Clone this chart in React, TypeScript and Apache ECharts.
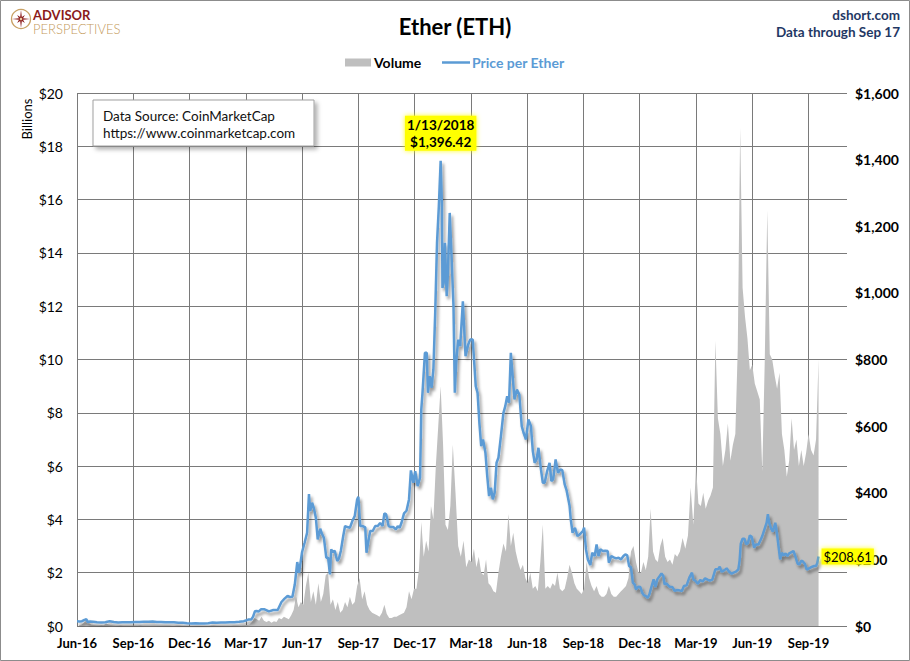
import React, { useEffect, useRef } from "react";
import * as echarts from "echarts";

// ---------- DATA ----------
const xTickLabels = [
  "Jun-16", "Sep-16", "Dec-16", "Mar-17", "Jun-17", "Sep-17", "Dec-17",
  "Mar-18", "Jun-18", "Sep-18", "Dec-18", "Mar-19", "Jun-19", "Sep-19",
];

// Price per Ether (USD), [date, close]
const price2016: [string, number][] = [
  ["2016-06-01", 14.0], ["2016-06-05", 13.8], ["2016-06-09", 14.6], ["2016-06-13", 18.6], ["2016-06-16", 20.6],
  ["2016-06-18", 12.0], ["2016-06-22", 13.2], ["2016-06-27", 13.0], ["2016-07-03", 11.5], ["2016-07-10", 10.6],
  ["2016-07-17", 11.2], ["2016-07-20", 12.6], ["2016-07-24", 14.0], ["2016-07-31", 12.0], ["2016-08-07", 10.6],
  ["2016-08-14", 11.0], ["2016-08-21", 11.3], ["2016-08-28", 11.1], ["2016-09-04", 11.8], ["2016-09-11", 11.8],
  ["2016-09-18", 12.7], ["2016-09-25", 13.0], ["2016-10-02", 13.2], ["2016-10-09", 11.9], ["2016-10-16", 12.0],
  ["2016-10-23", 11.3], ["2016-10-30", 10.9], ["2016-11-06", 11.0], ["2016-11-13", 10.1], ["2016-11-20", 9.8],
  ["2016-11-27", 8.5], ["2016-12-04", 7.8], ["2016-12-11", 8.2], ["2016-12-18", 7.8], ["2016-12-25", 7.3],
];
const price2017: [string, number][] = [
  ["2017-01-01", 8.2], ["2017-01-08", 10.3], ["2017-01-15", 9.8], ["2017-01-22", 10.7], ["2017-01-29", 10.5],
  ["2017-02-05", 11.3], ["2017-02-12", 11.4], ["2017-02-19", 12.8], ["2017-02-26", 14.5], ["2017-03-01", 16.5],
  ["2017-03-05", 19.3], ["2017-03-10", 19.5], ["2017-03-13", 28], ["2017-03-16", 44], ["2017-03-19", 45],
  ["2017-03-22", 43], ["2017-03-26", 50], ["2017-04-01", 50], ["2017-04-08", 44], ["2017-04-15", 48],
  ["2017-04-22", 48], ["2017-04-28", 72], ["2017-05-03", 82], ["2017-05-08", 90], ["2017-05-12", 87],
  ["2017-05-16", 88], ["2017-05-20", 125], ["2017-05-24", 192], ["2017-05-27", 160], ["2017-06-01", 222],
  ["2017-06-05", 250], ["2017-06-09", 280], ["2017-06-12", 396], ["2017-06-14", 345], ["2017-06-17", 370],
  ["2017-06-20", 352], ["2017-06-23", 325], ["2017-06-26", 260], ["2017-06-30", 292], ["2017-07-03", 276],
  ["2017-07-06", 265], ["2017-07-10", 205], ["2017-07-13", 205], ["2017-07-16", 155], ["2017-07-18", 230],
  ["2017-07-21", 222], ["2017-07-24", 226], ["2017-07-28", 195], ["2017-07-31", 203], ["2017-08-03", 225],
  ["2017-08-07", 270], ["2017-08-10", 300], ["2017-08-14", 297], ["2017-08-18", 295], ["2017-08-22", 315],
  ["2017-08-26", 330], ["2017-08-30", 380], ["2017-09-01", 388], ["2017-09-04", 300], ["2017-09-08", 300],
  ["2017-09-12", 296], ["2017-09-14", 220], ["2017-09-17", 255], ["2017-09-20", 285], ["2017-09-24", 285],
  ["2017-09-28", 300], ["2017-10-02", 300], ["2017-10-06", 309], ["2017-10-10", 300], ["2017-10-13", 338],
  ["2017-10-16", 335], ["2017-10-20", 300], ["2017-10-24", 297], ["2017-10-28", 297], ["2017-11-01", 290],
  ["2017-11-04", 300], ["2017-11-07", 295], ["2017-11-10", 310], ["2017-11-14", 338], ["2017-11-18", 346],
  ["2017-11-22", 380], ["2017-11-25", 467], ["2017-11-29", 430], ["2017-12-02", 465], ["2017-12-06", 420],
  ["2017-12-10", 445], ["2017-12-12", 650], ["2017-12-14", 700], ["2017-12-18", 820], ["2017-12-21", 820],
  ["2017-12-23", 700], ["2017-12-26", 750], ["2017-12-29", 715],
];
const price2018: [string, number][] = [
  ["2018-01-01", 770], ["2018-01-04", 940], ["2018-01-07", 1150], ["2018-01-10", 1260], ["2018-01-13", 1396.42],
  ["2018-01-15", 1270], ["2018-01-16", 1015], ["2018-01-18", 1030], ["2018-01-20", 1150], ["2018-01-23", 990],
  ["2018-01-25", 1060], ["2018-01-28", 1240], ["2018-01-31", 1110], ["2018-02-03", 960], ["2018-02-05", 700],
  ["2018-02-07", 790], ["2018-02-10", 860], ["2018-02-13", 840], ["2018-02-17", 975], ["2018-02-21", 810],
  ["2018-02-25", 845], ["2018-02-28", 860], ["2018-03-04", 860], ["2018-03-09", 720], ["2018-03-12", 700],
  ["2018-03-15", 610], ["2018-03-18", 540], ["2018-03-21", 560], ["2018-03-25", 520], ["2018-03-28", 450],
  ["2018-03-31", 390], ["2018-04-03", 415], ["2018-04-06", 380], ["2018-04-09", 400], ["2018-04-12", 490],
  ["2018-04-15", 505], ["2018-04-19", 570], ["2018-04-23", 640], ["2018-04-26", 660], ["2018-04-29", 690],
  ["2018-05-02", 670], ["2018-05-05", 820], ["2018-05-08", 750], ["2018-05-11", 680], ["2018-05-15", 710],
  ["2018-05-19", 695], ["2018-05-23", 600], ["2018-05-26", 580], ["2018-05-30", 560], ["2018-06-03", 620],
  ["2018-06-07", 600], ["2018-06-10", 525], ["2018-06-13", 490], ["2018-06-16", 500], ["2018-06-19", 535],
  ["2018-06-23", 470], ["2018-06-26", 430], ["2018-06-29", 430], ["2018-07-03", 465], ["2018-07-07", 490],
  ["2018-07-10", 435], ["2018-07-13", 440], ["2018-07-17", 500], ["2018-07-21", 460], ["2018-07-25", 470],
  ["2018-07-28", 468], ["2018-08-01", 425], ["2018-08-04", 408], ["2018-08-09", 362], ["2018-08-11", 320],
  ["2018-08-14", 280], ["2018-08-18", 295], ["2018-08-22", 270], ["2018-08-26", 275], ["2018-08-31", 285],
  ["2018-09-02", 295], ["2018-09-05", 230], ["2018-09-08", 200], ["2018-09-12", 183], ["2018-09-15", 220],
  ["2018-09-19", 210], ["2018-09-22", 245], ["2018-09-25", 210], ["2018-09-28", 230], ["2018-10-02", 225],
  ["2018-10-06", 226], ["2018-10-10", 225], ["2018-10-12", 190], ["2018-10-16", 210], ["2018-10-20", 206],
  ["2018-10-24", 203], ["2018-10-28", 205], ["2018-11-01", 200], ["2018-11-05", 210], ["2018-11-08", 215],
  ["2018-11-11", 212], ["2018-11-14", 180], ["2018-11-17", 176], ["2018-11-20", 130], ["2018-11-23", 124],
  ["2018-11-25", 110], ["2018-11-29", 118], ["2018-12-02", 117], ["2018-12-05", 100], ["2018-12-08", 92],
  ["2018-12-11", 90], ["2018-12-14", 84], ["2018-12-17", 95], ["2018-12-20", 115], ["2018-12-24", 140],
  ["2018-12-27", 117], ["2018-12-30", 140],
];
const price2019: [string, number][] = [
  ["2019-01-03", 150], ["2019-01-06", 158], ["2019-01-09", 150], ["2019-01-11", 125], ["2019-01-14", 128],
  ["2019-01-17", 122], ["2019-01-20", 117], ["2019-01-24", 117], ["2019-01-28", 105], ["2019-01-31", 108],
  ["2019-02-04", 107], ["2019-02-08", 105], ["2019-02-11", 120], ["2019-02-15", 122], ["2019-02-19", 145],
  ["2019-02-23", 160], ["2019-02-25", 140], ["2019-02-28", 136], ["2019-03-04", 127], ["2019-03-08", 138],
  ["2019-03-12", 134], ["2019-03-16", 143], ["2019-03-20", 139], ["2019-03-24", 136], ["2019-03-28", 139],
  ["2019-04-02", 170], ["2019-04-06", 170], ["2019-04-09", 178], ["2019-04-12", 163], ["2019-04-16", 167],
  ["2019-04-20", 173], ["2019-04-24", 163], ["2019-04-28", 157], ["2019-05-01", 160], ["2019-05-05", 163],
  ["2019-05-09", 170], ["2019-05-11", 195], ["2019-05-13", 247], ["2019-05-16", 262], ["2019-05-19", 262],
  ["2019-05-22", 245], ["2019-05-25", 250], ["2019-05-28", 272], ["2019-05-31", 268], ["2019-06-04", 235],
  ["2019-06-07", 245], ["2019-06-11", 245], ["2019-06-14", 257], ["2019-06-17", 270], ["2019-06-21", 293],
  ["2019-06-24", 310], ["2019-06-26", 336], ["2019-06-28", 310], ["2019-07-01", 293], ["2019-07-04", 283],
  ["2019-07-08", 310], ["2019-07-11", 275], ["2019-07-14", 230], ["2019-07-16", 200], ["2019-07-19", 220],
  ["2019-07-22", 212], ["2019-07-25", 218], ["2019-07-28", 210], ["2019-07-31", 218], ["2019-08-04", 222],
  ["2019-08-07", 225], ["2019-08-10", 210], ["2019-08-14", 187], ["2019-08-17", 185], ["2019-08-20", 196],
  ["2019-08-23", 193], ["2019-08-26", 186], ["2019-08-29", 169], ["2019-09-01", 172], ["2019-09-04", 175],
  ["2019-09-07", 178], ["2019-09-10", 180], ["2019-09-13", 180], ["2019-09-15", 189], ["2019-09-17", 208.61],
];

// Volume (billions USD), one value every 4 days starting 2016-06-04
const volumeStart = "2016-06-04";
const volumeStepDays = 4;
const vol2016 = [
  0.03, 0.05, 0.12, 0.28, 0.1, 0.05, 0.04, // Jun
  0.03, 0.03, 0.04, 0.03, 0.09, 0.06, 0.04, 0.03, // Jul
  0.02, 0.02, 0.03, 0.02, 0.02, 0.02, 0.02, 0.02, // Aug
  0.02, 0.02, 0.03, 0.02, 0.02, 0.02, 0.02, // Sep
  0.02, 0.02, 0.02, 0.02, 0.02, 0.02, 0.02, 0.02, // Oct
  0.01, 0.01, 0.02, 0.02, 0.01, 0.01, 0.01, // Nov
  0.01, 0.01, 0.01, 0.01, 0.01, 0.01, 0.01, 0.01, // Dec
];
const vol2017 = [
  0.01, 0.02, 0.02, 0.01, 0.01, 0.01, 0.01, 0.01, // Jan
  0.01, 0.01, 0.02, 0.02, 0.02, 0.02, 0.03, // Feb
  0.04, 0.06, 0.15, 0.3, 0.25, 0.2, 0.35, 0.2, // Mar
  0.15, 0.2, 0.12, 0.18, 0.15, 0.3, 0.25, // Apr
  0.35, 0.3, 0.25, 0.4, 0.6, 1.1, 0.7, 0.9, // May
  0.8, 1.5, 2.0, 0.9, 1.3, 0.8, 1.6, // Jun
  0.9, 1.2, 1.9, 2.0, 0.8, 1.0, 0.6, 0.9, // Jul
  0.5, 0.6, 0.9, 0.7, 1.1, 0.8, 0.9, 1.5, // Aug
  1.8, 1.0, 1.3, 0.8, 0.6, 0.5, 0.45, // Sep
  0.4, 0.35, 0.5, 0.8, 0.45, 0.3, 0.3, 0.35, // Oct
  0.35, 0.4, 0.45, 0.5, 0.7, 1.3, 1.0, 1.4, // Nov
  1.4, 2.1, 3.9, 2.6, 3.2, 2.8, 4.5, // Dec
];
const vol2018 = [
  4.0, 6.0, 7.5, 9.0, 6.8, 3.8, 3.6, 4.5, // Jan
  6.8, 5.0, 3.0, 2.6, 3.2, 2.2, 2.5, // Feb
  2.4, 2.9, 2.2, 2.6, 2.0, 1.9, 2.5, 1.6, // Mar
  1.5, 1.3, 1.25, 2.0, 2.6, 3.1, 2.8, // Apr
  4.2, 3.0, 3.5, 2.8, 2.4, 2.1, 2.3, 1.8, // May
  1.6, 2.0, 1.4, 1.5, 1.3, 2.4, 3.8, 1.4, // Jun
  1.5, 1.4, 1.6, 1.5, 2.0, 1.4, 1.3, // Jul
  1.4, 1.8, 2.3, 2.0, 1.6, 1.4, 1.3, 1.2, // Aug
  1.4, 2.4, 1.8, 1.5, 1.3, 1.5, 1.2, 1.1, // Sep
  1.1, 1.2, 1.5, 1.2, 1.1, 1.1, 1.2, // Oct
  1.3, 1.4, 1.5, 1.8, 2.8, 3.0, 2.4, 2.0, // Nov
  2.0, 2.4, 2.1, 2.6, 4.4, 2.8, 2.5, 2.4, // Dec
];
const vol2019 = [
  3.0, 3.3, 2.6, 2.4, 2.5, 2.3, 2.7, // Jan
  2.6, 2.8, 3.3, 2.9, 3.4, 5.2, 3.8, // Feb
  6.0, 4.6, 4.5, 5.0, 4.4, 4.7, 4.9, 5.2, // Mar
  10.7, 7.8, 7.2, 6.0, 6.6, 7.6, 6.2, 6.8, // Apr
  7.2, 10.4, 18.7, 12.7, 11.6, 10.8, 9.6, // May
  9.8, 9.1, 8.8, 8.5, 5.8, 10.0, 15.6, 10.2, // Jun
  10.0, 9.4, 8.9, 9.5, 7.2, 6.6, 5.6, 6.2, // Jul
  7.8, 6.6, 7.0, 6.0, 6.6, 6.0, 6.5, // Aug
  7.2, 6.6, 6.4, 7.0, 10.0, // Sep
];

// ---------- HELPERS ----------
const DAY_MS = 86400000;
function monthPos(y: number, m: number, d: number): number {
  const dim = new Date(Date.UTC(y, m, 0)).getUTCDate();
  return (y - 2016) * 12 + (m - 6) + (d - 1) / dim;
}
function posFromString(s: string): number {
  const [y, m, d] = s.split("-").map(Number);
  return monthPos(y, m, d);
}
function volumePos(i: number): number {
  const [y, m, d] = volumeStart.split("-").map(Number);
  const t = new Date(Date.UTC(y, m - 1, d) + i * volumeStepDays * DAY_MS);
  return monthPos(t.getUTCFullYear(), t.getUTCMonth() + 1, t.getUTCDate());
}

const FONT = "Lato";

export default function App() {
  const ref = useRef<HTMLDivElement>(null);

  useEffect(() => {
    if (!ref.current) return;
    const chart = echarts.init(ref.current, undefined, { renderer: "svg" });

    const pricePts = [...price2016, ...price2017, ...price2018, ...price2019];
    const priceData = pricePts.map(([d, v]) => [posFromString(d), v]);
    const volumes = [...vol2016, ...vol2017, ...vol2018, ...vol2019];
    const volumeData = volumes.map((v, i) => [volumePos(i), v]);

    let peakIdx = 0;
    pricePts.forEach((p, i) => { if (p[1] > pricePts[peakIdx][1]) peakIdx = i; });
    const [peakDate, peakVal] = pricePts[peakIdx];
    const [py, pm, pd] = peakDate.split("-").map(Number);
    const fmtUsd = (v: number) =>
      "$" + v.toLocaleString("en-US", { minimumFractionDigits: 2, maximumFractionDigits: 2 });
    const peakText = `${pm}/${pd}/${py}\n${fmtUsd(peakVal)}`;
    const last = pricePts[pricePts.length - 1];

    const gridColor = "#7A7A7A";

    const starPts: number[][] = [];
    for (let k = 0; k < 16; k++) {
      const a = -Math.PI / 2 + (k * Math.PI) / 8;
      const r = k % 4 === 0 ? 9 : k % 2 === 0 ? 5.5 : 2.2;
      starPts.push([21 + r * Math.cos(a), 19 + r * Math.sin(a)]);
    }

    const txt = (x: number, y: number, text: string, extra: any) => ({
      type: "text",
      x,
      y,
      z: 100,
      style: {
        text,
        fontFamily: FONT,
        fontSize: 14,
        fill: "#000",
        align: "left",
        verticalAlign: "middle",
        textAlign: "left",
        textVerticalAlign: "middle",
        ...extra,
      },
    });

    const option: any = {
      animation: false,
      textStyle: { fontFamily: FONT },
      grid: [
        { left: 77, right: 63, top: 93, bottom: 35, containLabel: false, outerBoundsMode: "none" },
        { left: 77, right: 101.5, top: 93, bottom: 35, containLabel: false, outerBoundsMode: "none" },
      ],
      xAxis: [
        { type: "value", gridIndex: 0, min: 0, max: 41.05, show: false },
        {
          type: "value",
          gridIndex: 1,
          min: 0,
          max: 39,
          interval: 3,
          axisLine: { show: false },
          axisTick: { show: false },
          splitLine: { show: true, lineStyle: { color: gridColor, width: 1 } },
          axisLabel: {
            show: true,
            margin: 10,
            fontFamily: FONT,
            fontSize: 13,
            fontWeight: "bold",
            color: "#000",
            showMinLabel: true,
            showMaxLabel: true,
            formatter: (v: number) => xTickLabels[Math.round(v / 3)] ?? "",
          },
        },
      ],
      yAxis: [
        {
          type: "value",
          gridIndex: 0,
          min: 0,
          max: 20,
          interval: 2,
          position: "left",
          axisLine: { show: false },
          axisTick: { show: false },
          splitLine: { show: true, lineStyle: { color: gridColor, width: 1 } },
          axisLabel: {
            margin: 14,
            fontFamily: FONT,
            fontSize: 14,
            color: "#000",
            formatter: (v: number) => "$" + v,
          },
        },
        {
          type: "value",
          gridIndex: 0,
          min: 0,
          max: 1600,
          interval: 200,
          position: "right",
          axisLine: { show: false },
          axisTick: { show: false },
          splitLine: { show: false },
          axisLabel: {
            margin: 8,
            fontFamily: FONT,
            fontSize: 14,
            fontWeight: "bold",
            color: "#000",
            formatter: (v: number) => "$" + v.toLocaleString("en-US"),
          },
        },
        { type: "value", gridIndex: 1, min: 0, max: 1, show: false },
      ],
      series: [
        {
          name: "Volume",
          type: "line",
          xAxisIndex: 0,
          yAxisIndex: 0,
          data: volumeData,
          symbol: "none",
          silent: true,
          z: 2,
          lineStyle: { width: 0, color: "#BFBFBF" },
          itemStyle: { color: "#BFBFBF" },
          areaStyle: { color: "#BFBFBF", opacity: 1 },
        },
        {
          name: "Price per Ether",
          type: "line",
          xAxisIndex: 0,
          yAxisIndex: 1,
          data: priceData,
          symbol: "none",
          silent: true,
          z: 3,
          lineStyle: {
            color: "#5B9BD5",
            width: 2.5,
            shadowColor: "rgba(0,0,0,0.4)",
            shadowBlur: 3,
            shadowOffsetX: 2,
            shadowOffsetY: 3,
          },
          itemStyle: { color: "#5B9BD5" },
          markPoint: {
            symbol: "circle",
            symbolSize: 0,
            silent: true,
            itemStyle: { color: "rgba(0,0,0,0)" },
            data: [
              {
                coord: [posFromString(peakDate), peakVal],
                label: {
                  show: true,
                  position: "top",
                  distance: 10,
                  formatter: peakText,
                  fontFamily: FONT,
                  fontSize: 13.5,
                  fontWeight: "bold",
                  lineHeight: 17,
                  color: "#000",
                  backgroundColor: "#FFFF00",
                  padding: [1, 2, 0, 2],
                  shadowColor: "rgba(255,255,0,0.9)",
                  shadowBlur: 5,
                  align: "center",
                },
              },
              {
                coord: [posFromString(last[0]), last[1]],
                label: {
                  show: true,
                  position: "right",
                  distance: 3,
                  formatter: fmtUsd(last[1]),
                  fontFamily: FONT,
                  fontSize: 13,
                  color: "#000",
                  backgroundColor: "#FFFF00",
                  padding: [2, 2, 1, 2],
                  shadowColor: "rgba(255,255,0,0.9)",
                  shadowBlur: 5,
                },
              },
            ],
          },
        },
      ],
      graphic: [
        // outer border
        {
          type: "rect",
          z: 100,
          shape: { x: 0.5, y: 0.5, width: 909, height: 660 },
          style: { fill: "none", stroke: "#8C8C8C", lineWidth: 1 },
          silent: true,
        },
        // logo
        {
          type: "circle",
          z: 100,
          shape: { cx: 21, cy: 19, r: 9.5 },
          style: { fill: "none", stroke: "#C8A165", lineWidth: 1.3 },
        },
        { type: "polygon", z: 101, shape: { points: starPts }, style: { fill: "#8B1A1A" } },
        { type: "circle", z: 102, shape: { cx: 21, cy: 19, r: 1.3 }, style: { fill: "#E8C9A0" } },
        txt(33, 14.5, "ADVISOR", { fontSize: 13, fontWeight: "bold", fill: "#8B1A1A" }),
        txt(33, 29.2, "PERSPECTIVES", { fontSize: 13, fontWeight: 300, fill: "#C49A5A" }),
        // title
        txt(455, 26, "Ether (ETH)", { fontSize: 22, fontWeight: "bold", align: "center", textAlign: "center" }),
        // top right
        txt(900, 15, "dshort.com", { fontSize: 13.5, fontWeight: "bold", fill: "#1F3864", align: "right", textAlign: "right" }),
        txt(900, 32, "Data through Sep 17", { fontSize: 13.5, fontWeight: "bold", fill: "#1F3864", align: "right", textAlign: "right" }),
        // legend
        { type: "rect", z: 100, shape: { x: 345, y: 58.5, width: 26, height: 8 }, style: { fill: "#BFBFBF" } },
        txt(374, 62.5, "Volume", { fontSize: 14, fontWeight: "bold" }),
        { type: "line", z: 100, shape: { x1: 442, y1: 62.5, x2: 470, y2: 62.5 }, style: { stroke: "#5B9BD5", lineWidth: 2.5 } },
        txt(472, 62.5, "Price per Ether", { fontSize: 14, fontWeight: "bold", fill: "#5B9BD5" }),
        // left axis name
        {
          type: "text",
          x: 27,
          y: 119,
          rotation: Math.PI / 2,
          z: 100,
          style: {
            text: "Billions",
            fontFamily: FONT,
            fontSize: 13,
            fill: "#000",
            align: "center",
            verticalAlign: "middle",
            textAlign: "center",
            textVerticalAlign: "middle",
          },
        },
        // data source box
        {
          type: "rect",
          z: 100,
          shape: { x: 93, y: 100, width: 221, height: 46 },
          style: {
            fill: "#FFFFFF",
            stroke: "#A0A0A0",
            lineWidth: 1,
            shadowColor: "rgba(0,0,0,0.3)",
            shadowBlur: 4,
            shadowOffsetX: 3,
            shadowOffsetY: 3,
          },
        },
        txt(103, 115.5, "Data Source: CoinMarketCap", { fontSize: 13.5, fill: "#111" }),
        txt(103, 132.5, "https://www.coinmarketcap.com", { fontSize: 13.5, fill: "#111" }),
      ],
    };

    chart.setOption(option);
    return () => chart.dispose();
  }, []);

  return (
    <div
      ref={ref}
      style={{ position: "absolute", left: 0, top: 0, width: 910, height: 661, background: "#fff" }}
    />
  );
}
